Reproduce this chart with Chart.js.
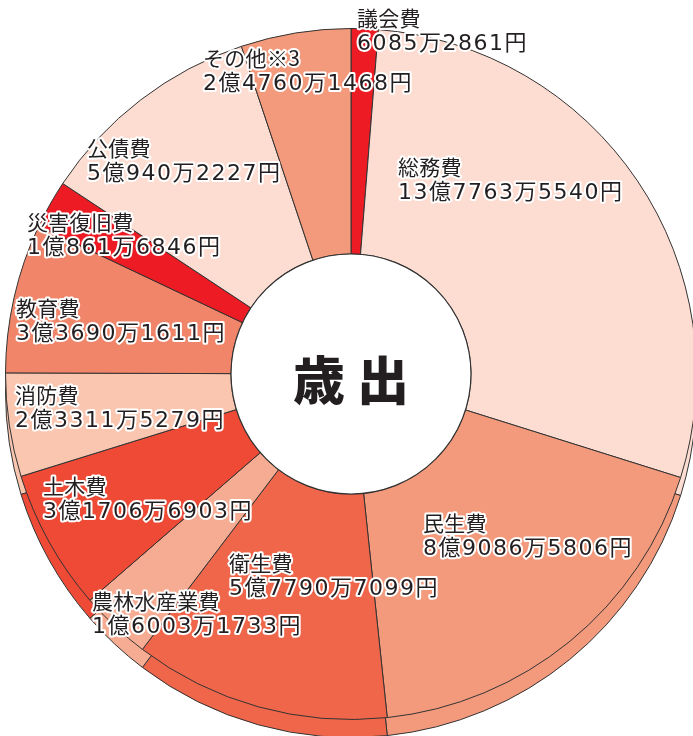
<!DOCTYPE html>
<html>
<head>
<meta charset="utf-8">
<script src="https://cdn.jsdelivr.net/npm/chart.js@4.4.1/dist/chart.umd.min.js"></script>
<style>
  html, body { margin: 0; padding: 0; background: #fff; overflow: hidden; width: 693px; height: 736px; }
  canvas { position: absolute; left: 0; }
  #side { top: 18px; }
  #face { top: 0; }
</style>
</head>
<body>
<canvas id="side" width="720" height="760"></canvas>
<canvas id="face" width="720" height="760"></canvas>
<script>
// 歳出の内訳 (円)
const categories = ['議会費', '総務費', '民生費', '衛生費', '農林水産業費', '土木費', '消防費', '教育費', '災害復旧費', '公債費', 'その他※3'];
const amounts = [60852861, 1377635540, 890865806, 577907099, 160031733, 317066903, 233115279, 336901611, 108616846, 509402227, 247601468];
const amountLabels = ['6085万2861円', '13億7763万5540円', '8億9086万5806円', '5億7790万7099円', '1億6003万1733円', '3億1706万6903円', '2億3311万5279円', '3億3690万1611円', '1億861万6846円', '5億940万2227円', '2億4760万1468円'];
const centerTitle = '歳 出';

const colors = ['#ED1C24', '#FDDDD2', '#F49A7C', '#F0664A', '#F6AC92', '#EE4A36', '#FAC6B0', '#F08569', '#ED1C24', '#FDDDD2', '#F49A7C'];
// top-left of each label's first line
const labelPos = [[357, 9], [398, 158], [423, 514], [229, 554], [92, 592], [43, 477], [15, 386], [16, 299], [27, 213], [87, 139], [203, 49]];

const layoutPad = { left: 5, right: 23, top: 28, bottom: 40 };

function baseOptions(extra) {
  return Object.assign({
    responsive: false,
    animation: false,
    layout: { padding: layoutPad },
    plugins: { legend: { display: false }, tooltip: { enabled: false } }
  }, extra);
}

function drawLabel(ctx, text, x, y, spacing) {
  ctx.letterSpacing = spacing;
  ctx.strokeText(text, x, y);
  ctx.fillText(text, x, y);
}

const facePlugin = {
  id: 'face',
  afterDatasetsDraw(chart) {
    const ctx = chart.ctx;
    const arc = chart.getDatasetMeta(0).data[0];
    const { x, y, innerRadius } = arc.getProps(['x', 'y', 'innerRadius'], true);
    ctx.save();
    ctx.beginPath();
    ctx.arc(x, y, innerRadius, 0, Math.PI * 2);
    ctx.fillStyle = '#fff';
    ctx.fill();
    ctx.lineWidth = 1.2;
    ctx.strokeStyle = '#333';
    ctx.stroke();

    ctx.fillStyle = '#231f20';
    ctx.font = '900 52px "Noto Sans CJK JP"';
    ctx.textAlign = 'center';
    ctx.textBaseline = 'middle';
    ctx.fillText(centerTitle, x, y + 6);

    ctx.textAlign = 'left';
    ctx.textBaseline = 'top';
    ctx.lineJoin = 'round';
    ctx.strokeStyle = '#fff';
    ctx.lineWidth = 4;
    ctx.fillStyle = '#231f20';
    categories.forEach((c, i) => {
      const [lx, ly] = labelPos[i];
      ctx.font = '21px "Noto Sans CJK JP"';
      drawLabel(ctx, c, lx, ly - 1, '0.3px');
      ctx.font = '22px "DejaVu Sans", "Noto Sans CJK JP"';
      drawLabel(ctx, amountLabels[i], lx, ly + 24, '1.5px');
    });
    ctx.restore();
  }
};

// 側面 (立体の厚み)
new Chart(document.getElementById('side'), {
  type: 'pie',
  data: { labels: categories, datasets: [{ data: amounts, backgroundColor: colors, borderColor: '#333', borderWidth: 1 }] },
  options: baseOptions({})
});

// 上面
new Chart(document.getElementById('face'), {
  type: 'doughnut',
  data: { labels: categories, datasets: [{ data: amounts, backgroundColor: colors, borderColor: '#333', borderWidth: 1 }] },
  options: baseOptions({ cutout: 120 }),
  plugins: [facePlugin]
});
</script>
</body>
</html>
